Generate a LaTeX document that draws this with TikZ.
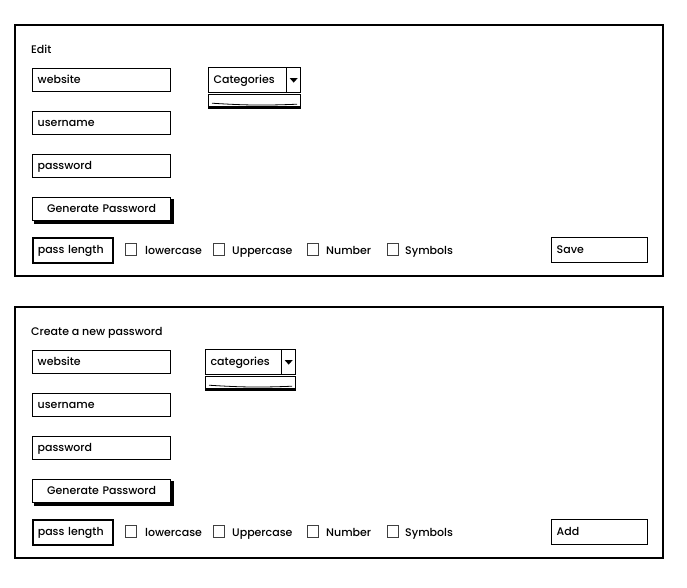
\documentclass[tikz,border=0pt]{standalone}
\usepackage{fontspec}
\setmainfont{Poppins}[UprightFont=* Medium]

\tikzset{
  every node/.style={font=\fontsize{11}{13}\selectfont,text height=8pt,text depth=2pt},
  panel/.style={draw,line width=1.8pt},
  field/.style={draw,line width=1.4pt,anchor=north west,minimum height=23pt,
    text width=#1,inner xsep=5pt,inner ysep=0pt,align=left},
  check/.style={draw=black!75,line width=0.8pt,minimum size=11.5pt,inner sep=0pt,
    text height=0pt,text depth=0pt},
  lbl/.style={anchor=west,inner sep=0pt},
  shadowline/.style={line width=3pt}
}

\begin{document}
\begin{tikzpicture}[x=1pt,y=-1pt]
  \useasboundingbox (0,0) rectangle (687,587);
  \foreach \dy/\title/\cat/\btn/\dx/\dw/\cw [count=\i] in
    {0/Edit/Categories/Save/208/92/82, 282/Create a new password/categories/Add/205/90/80}
  {
    \begin{scope}[shift={(0,\dy)}]
      \draw[panel] (15,25) rectangle (663,276);
      \node[lbl] (title\i) at (31,50) {\title};
      % text fields
      \node[field=128pt] (web\i) at (32,68) {website};
      \node[field=128pt] (user\i) at (32,111) {username};
      \node[field=128pt] (pass\i) at (32,154) {password};
      % button with shadow
      \node[field=128pt,line width=1.2pt,align=center] (gen\i) at (32,197) {Generate Password};
      \draw[shadowline] ([shift={(2,1.5)}]gen\i.south west) -- ([shift={(1.5,1.5)}]gen\i.south east)
        -- ([shift={(1.5,2)}]gen\i.north east);
      % dropdown
      \node[field=\cw pt,line width=1.2pt,minimum height=25pt] (cat\i) at (\dx,67) {\cat};
      \draw[line width=1.2pt] ([shift={(-15,0)}]cat\i.north east) -- ([shift={(-15,0)}]cat\i.south east);
      \fill ([shift={(-11.5,-2)}]cat\i.east) -- ([shift={(-3.5,-2)}]cat\i.east)
        -- ([shift={(-7.5,2.5)}]cat\i.east) -- cycle;
      \node[draw,line width=1.2pt,anchor=north west,minimum width=\dw pt,minimum height=12pt,
        inner sep=0pt,text height=0pt,text depth=0pt] (list\i) at (\dx,94) {};
      \draw[line width=3pt] (list\i.south west) -- (list\i.south east);
      \draw[line width=0.8pt] ([shift={(4,-4)}]list\i.south west) to[bend right=3]
        ([shift={(-4,-3)}]list\i.south east);
      % options row
      \node[field=70pt,line width=1.6pt,minimum height=25pt] (len\i) at (32,237) {pass length};
      \node[check] (lowbox\i) at (131,249.5) {};
      \node[lbl] (low\i) at (145,251.5) {lowercase};
      \node[check] (upbox\i) at (219,249.5) {};
      \node[lbl] (up\i) at (232,251.5) {Uppercase};
      \node[check] (numbox\i) at (313,249.5) {};
      \node[lbl] (num\i) at (326,251.5) {Number};
      \node[check] (symbox\i) at (393,249.5) {};
      \node[lbl] (sym\i) at (405,251.5) {Symbols};
      \node[field=86pt,line width=1.4pt,minimum height=25pt] (btn\i) at (551,237) {\btn};
    \end{scope}
  }
\end{tikzpicture}
\end{document}
